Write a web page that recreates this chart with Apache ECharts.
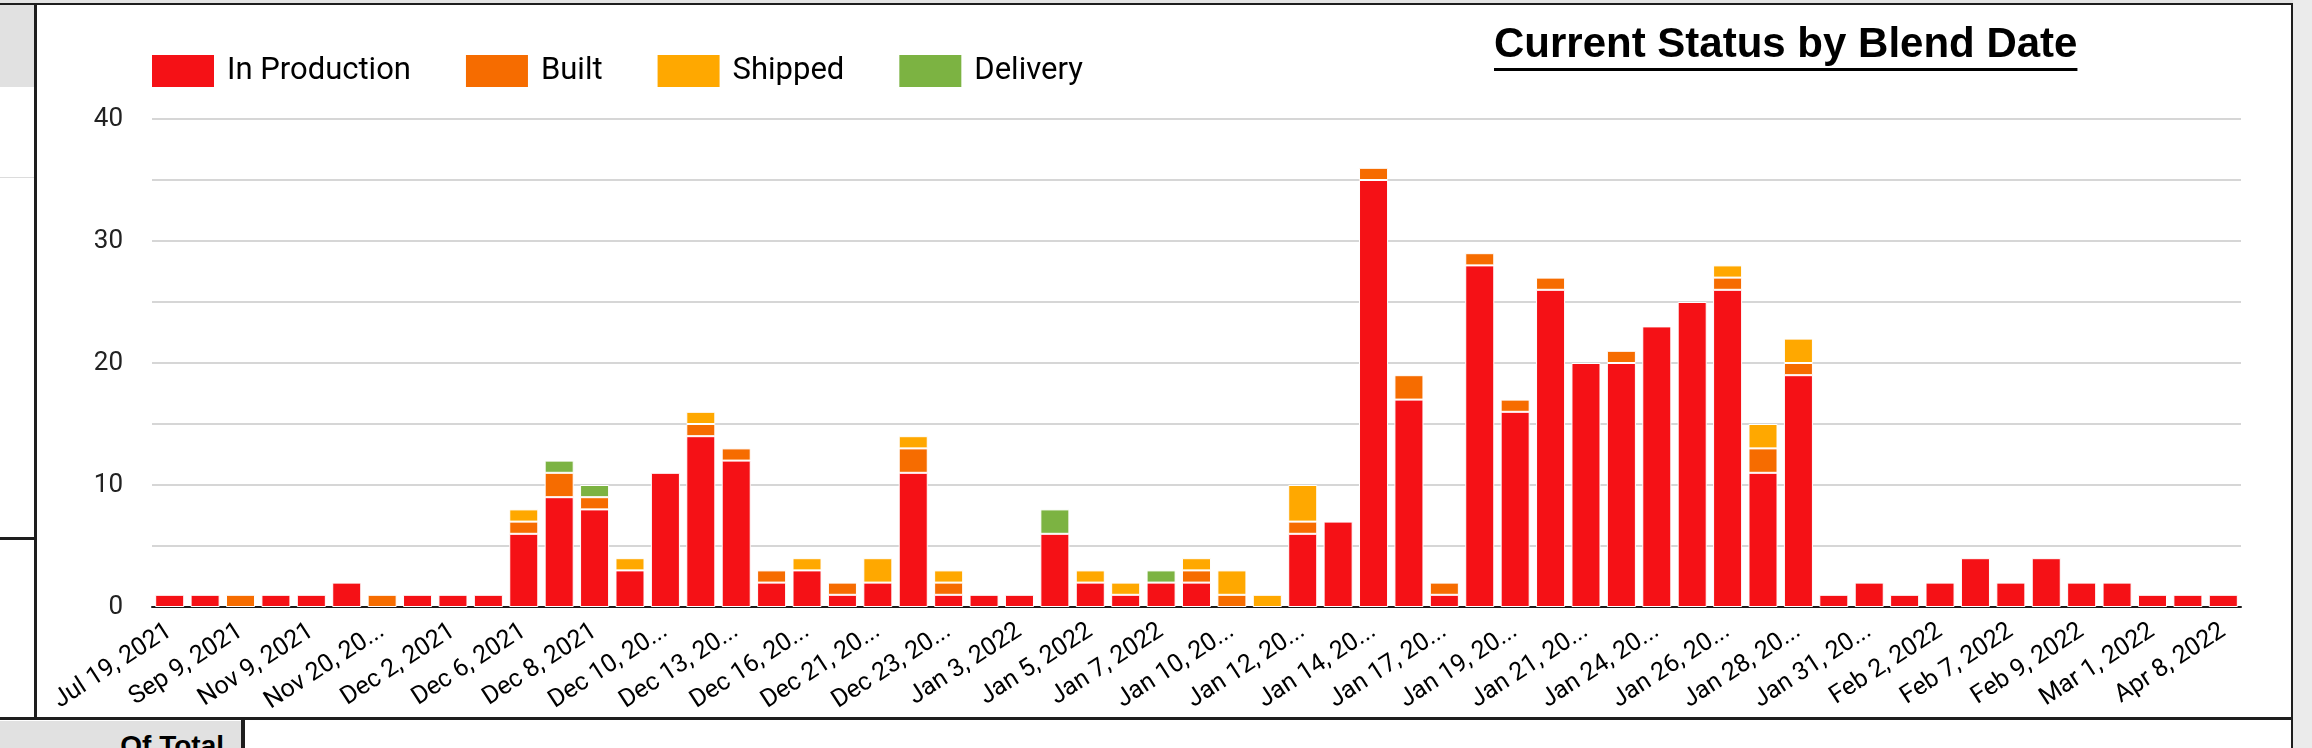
<!DOCTYPE html>
<html>
<head>
<meta charset="utf-8">
<title>Current Status by Blend Date</title>
<script src="https://cdn.jsdelivr.net/npm/echarts@6/dist/echarts.min.js"></script>
<style>
  html, body { margin: 0; padding: 0; width: 2312px; height: 748px; overflow: hidden; background: #fff; }
  .box { position: absolute; }
  #chart { position: absolute; left: 0; top: 0; width: 2312px; height: 748px; }
  #ofTotal { position: absolute; left: 0; top: 732px; width: 224px; text-align: right;
    font: bold 28px/28px "Liberation Sans", Arial, sans-serif; color: #000; }
</style>
</head>
<body>
<!-- dashboard frame around the chart -->
<div class="box" style="left:0;top:0;width:2312px;height:3px;background:#e3e3e3"></div>
<div class="box" style="left:0;top:3px;width:2293px;height:2px;background:#1e1e1e"></div>
<div class="box" style="left:0;top:5px;width:34px;height:82px;background:#e1e1e1"></div>
<div class="box" style="left:0;top:177px;width:34px;height:1px;background:#dcdcdc"></div>
<div class="box" style="left:0;top:537px;width:36px;height:3px;background:#1e1e1e"></div>
<div class="box" style="left:34px;top:3px;width:3px;height:717px;background:#1e1e1e"></div>
<div class="box" style="left:0;top:717px;width:2293px;height:3px;background:#1e1e1e"></div>
<div class="box" style="left:2291px;top:3px;width:2px;height:745px;background:#1e1e1e"></div>
<div class="box" style="left:2293px;top:0;width:19px;height:748px;background:#ebebeb"></div>
<div class="box" style="left:0;top:721px;width:241px;height:27px;background:#e1e1e1"></div>
<div class="box" style="left:241px;top:720px;width:4px;height:28px;background:#1e1e1e"></div>
<div id="ofTotal">Of Total</div>
<div id="chart"></div>
<script>
// blend dates (every other one is shown on the axis)
const blendDates = [
  "Jul 19, 2021", "Aug 30, 2021", "Sep 9, 2021", "Oct 12, 2021", "Nov 9, 2021",
  "Nov 15, 2021", "Nov 20, 2021", "Nov 29, 2021", "Dec 2, 2021", "Dec 3, 2021",
  "Dec 6, 2021", "Dec 7, 2021", "Dec 8, 2021", "Dec 9, 2021", "Dec 10, 2021",
  "Dec 11, 2021", "Dec 13, 2021", "Dec 14, 2021", "Dec 16, 2021", "Dec 17, 2021",
  "Dec 21, 2021", "Dec 22, 2021", "Dec 23, 2021", "Dec 28, 2021", "Jan 3, 2022",
  "Jan 4, 2022", "Jan 5, 2022", "Jan 6, 2022", "Jan 7, 2022", "Jan 8, 2022",
  "Jan 10, 2022", "Jan 11, 2022", "Jan 12, 2022", "Jan 13, 2022", "Jan 14, 2022",
  "Jan 15, 2022", "Jan 17, 2022", "Jan 18, 2022", "Jan 19, 2022", "Jan 20, 2022",
  "Jan 21, 2022", "Jan 22, 2022", "Jan 24, 2022", "Jan 25, 2022", "Jan 26, 2022",
  "Jan 27, 2022", "Jan 28, 2022", "Jan 29, 2022", "Jan 31, 2022", "Feb 1, 2022",
  "Feb 2, 2022", "Feb 4, 2022", "Feb 7, 2022", "Feb 8, 2022", "Feb 9, 2022",
  "Feb 14, 2022", "Mar 1, 2022", "Mar 15, 2022", "Apr 8, 2022"
];

const inProduction = [
  1, 1, 0, 1, 1, 2, 0, 1, 1, 1,
  6, 9, 8, 3, 11, 14, 12, 2, 3, 1,
  2, 11, 1, 1, 1, 6, 2, 1, 2, 2,
  0, 0, 6, 7, 35, 17, 1, 28, 16, 26,
  20, 20, 23, 25, 26, 11, 19, 1, 2, 1,
  2, 4, 2, 4, 2, 2, 1, 1, 1
];
const built = [
  0, 0, 1, 0, 0, 0, 1, 0, 0, 0,
  1, 2, 1, 0, 0, 1, 1, 1, 0, 1,
  0, 2, 1, 0, 0, 0, 0, 0, 0, 1,
  1, 0, 1, 0, 1, 2, 1, 1, 1, 1,
  0, 1, 0, 0, 1, 2, 1, 0, 0, 0,
  0, 0, 0, 0, 0, 0, 0, 0, 0
];
const shipped = [
  0, 0, 0, 0, 0, 0, 0, 0, 0, 0,
  1, 0, 0, 1, 0, 1, 0, 0, 1, 0,
  2, 1, 1, 0, 0, 0, 1, 1, 0, 1,
  2, 1, 3, 0, 0, 0, 0, 0, 0, 0,
  0, 0, 0, 0, 1, 2, 2, 0, 0, 0,
  0, 0, 0, 0, 0, 0, 0, 0, 0
];
const delivery = [
  0, 0, 0, 0, 0, 0, 0, 0, 0, 0,
  0, 1, 1, 0, 0, 0, 0, 0, 0, 0,
  0, 0, 0, 0, 0, 2, 0, 0, 1, 0,
  0, 0, 0, 0, 0, 0, 0, 0, 0, 0,
  0, 0, 0, 0, 0, 0, 0, 0, 0, 0,
  0, 0, 0, 0, 0, 0, 0, 0, 0
];

const statusNames = ["In Production", "Built", "Shipped", "Delivery"];
const statusColors = ["#f51116", "#f66c00", "#ffa800", "#7cb342"];
const yTicks = [0, 5, 10, 15, 20, 25, 30, 35, 40];

const titleText = "Current Status by Blend Date";
const titleFont = 'bold 42px "Liberation Sans"';
const titleLeft = 1494;
const labelSize = 25;

const ctx = document.createElement("canvas").getContext("2d");

// width of the title, for the underline
ctx.font = titleFont;
const titleWidth = ctx.measureText(titleText).width;

// long date labels get cut with "..." like the report does
const maxLabelWidth = 5.55 * labelSize;
const shortLabel = (s) => {
  ctx.font = labelSize + "px Roboto";
  if (ctx.measureText(s).width <= maxLabelWidth) return s;
  let cut = s;
  while (cut.length > 1 && ctx.measureText(cut + "...").width > maxLabelWidth) {
    cut = cut.slice(0, -1);
  }
  return cut + "...";
};

const chart = echarts.init(document.getElementById("chart"));

const makeSeries = (name, values, i) => ({
  name: name,
  type: "bar",
  stack: "status",
  barWidth: "82%",
  itemStyle: { color: statusColors[i], borderColor: "#fff", borderWidth: 1 },
  // empty segments are left out so they do not draw a white line
  data: values.map((v) => (v === 0 ? null : v)),
});

const option = {
  animation: false,
  title: {
    text: titleText,
    left: titleLeft,
    top: 24,
    padding: 0,
    textStyle: {
      fontFamily: "Liberation Sans",
      fontWeight: "bold",
      fontSize: 42,
      color: "#000",
    },
  },
  graphic: [
    {
      type: "rect",
      left: titleLeft,
      top: 68,
      shape: { width: titleWidth, height: 3 },
      style: { fill: "#000" },
    },
  ],
  legend: {
    left: 152,
    top: 55,
    padding: 0,
    icon: "rect",
    itemWidth: 62,
    itemHeight: 32,
    itemGap: 55,
    itemStyle: { borderWidth: 0 },
    textStyle: {
      fontFamily: "Roboto",
      fontSize: 31,
      color: "#000",
      padding: [0, 0, 0, 8],
    },
    data: statusNames,
  },
  grid: {
    left: 152,
    right: 71,
    top: 119,
    bottom: 141,
  },
  xAxis: {
    type: "category",
    data: blendDates,
    axisTick: { show: false },
    axisLine: { lineStyle: { color: "#1a1a1a", width: 2 } },
    axisLabel: {
      interval: 1,
      rotate: 33,
      margin: 22,
      fontFamily: "Roboto",
      fontSize: labelSize,
      color: "#000",
      formatter: shortLabel,
    },
  },
  yAxis: {
    type: "value",
    min: yTicks[0],
    max: yTicks[yTicks.length - 1],
    interval: 5,
    axisLine: { show: false },
    axisTick: { show: false },
    splitLine: { lineStyle: { color: "#d6d6d6", width: 2 } },
    axisLabel: {
      margin: 29,
      fontFamily: "Roboto",
      fontSize: 26,
      color: "#222",
      formatter: (v) => (v % 10 === 0 ? String(v) : ""),
    },
  },
  series: [
    makeSeries(statusNames[0], inProduction, 0),
    makeSeries(statusNames[1], built, 1),
    makeSeries(statusNames[2], shipped, 2),
    makeSeries(statusNames[3], delivery, 3),
  ],
};

chart.setOption(option);
</script>
</body>
</html>
